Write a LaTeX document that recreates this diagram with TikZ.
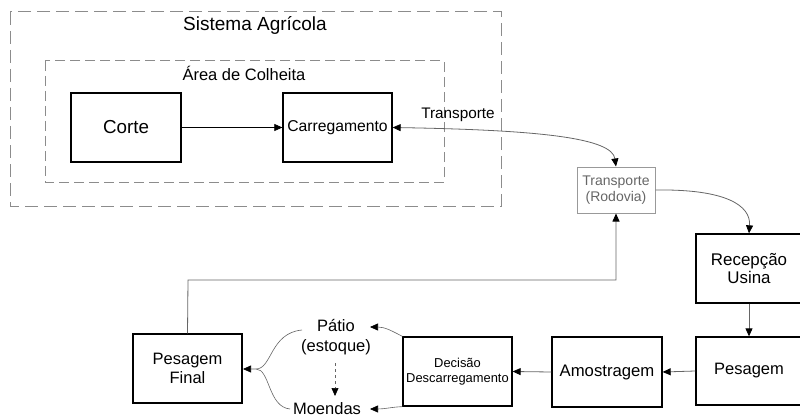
\documentclass[tikz,border=0pt]{standalone}
\usepackage{fontspec}
\setmainfont{Liberation Sans}
\usetikzlibrary{arrows.meta}
\begin{document}
\begin{tikzpicture}[x=1pt,y=-1pt,
  box/.style={draw=black,line width=1.3pt,align=center,inner sep=0pt},
  tip/.style={-{Triangle[length=8pt,width=7pt,color=black]}},
  conn/.style={draw=black!60,line width=0.8pt},
  outerdash/.style={draw=black!45,line width=1pt,dash pattern=on 13pt off 6pt},
  innerdash/.style={draw=black!45,line width=1pt,dash pattern=on 10pt off 5pt},
  lbl/.style={inner sep=0pt,align=center}]
\useasboundingbox (0,0) rectangle (800,417);
% dashed regions
\draw[outerdash] (10,12) rectangle (501,206);
\draw[innerdash] (45,61) rectangle (444,182);
\node[lbl,font=\fontsize{19}{21}\selectfont] (sa) at (255,25) {Sistema Agrícola};
\node[lbl,font=\fontsize{16.5}{19}\selectfont] (ac) at (244,73) {Área de Colheita};
% boxes
\node[box,minimum width=110pt,minimum height=69pt,font=\fontsize{18.8}{21}\selectfont] (corte) at (126,127.5) {Corte};
\node[box,minimum width=109pt,minimum height=69pt,font=\fontsize{15.7}{18}\selectfont] (carreg) at (337.5,127.5) {Carregamento};
\node[lbl,font=\fontsize{15.3}{18}\selectfont] (tlabel) at (458,115) {Transporte};
\node[draw=black!40,line width=1pt,align=center,inner sep=0pt,minimum width=78pt,minimum height=46pt,text=black!60,font=\fontsize{14}{16.5}\selectfont] (trans) at (616,190) {Transporte\\(Rodovia)};
\node[box,minimum width=106pt,minimum height=69pt,font=\fontsize{16.9}{18.5}\selectfont] (recep) at (749,268.5) {Recepção\\Usina};
\node[box,minimum width=106pt,minimum height=68pt,font=\fontsize{16.5}{19}\selectfont] (pesag) at (749,371) {Pesagem};
\node[box,minimum width=110pt,minimum height=70pt,font=\fontsize{16.7}{19}\selectfont] (amost) at (607,372) {Amostragem};
\node[box,minimum width=109pt,minimum height=69pt,font=\fontsize{12.9}{14.5}\selectfont] (decis) at (457.5,371.5) {Decisão\\Descarregamento};
\node[box,minimum width=109pt,minimum height=69pt,font=\fontsize{16.5}{19}\selectfont] (pfinal) at (187.5,368.5) {Pesagem\\Final};
\node[lbl,font=\fontsize{16.5}{20}\selectfont] (patio) at (336,337) {Pátio\\(estoque)};
\node[lbl,font=\fontsize{16.5}{20}\selectfont] (moend) at (327,408.5) {Moendas};
% connector points
\coordinate (patioin) at (370,327);
\coordinate (moendin) at (370,409);
\coordinate (patioout) at (302,330);
\coordinate (moendout) at (290,409);
\coordinate (pfin) at (243,369);
\coordinate (ret1) at (188,280);
\coordinate (ret2) at (616,280);
% connectors
\draw[tip,draw=black,line width=0.7pt] (corte.east) -- (carreg.west);
\draw[conn,{Triangle[length=8pt,width=7pt,color=black]}-{Triangle[length=8pt,width=7pt,color=black]}] (carreg.east) .. controls (540,130) and (612,138) .. (trans.north);
\draw[conn,tip] (trans.east) .. controls (725,189) and (751,205) .. (recep.north);
\draw[conn,tip] (recep.south) -- (pesag.north);
\draw[conn,tip] (pesag.west) -- (amost.east);
\draw[conn,tip] (amost.west) -- (decis.east);
\draw[conn,line width=0.6pt,tip] (decis.north west) .. controls (392,331) and (385,327) .. (patioin);
\draw[conn,line width=0.6pt,tip] (decis.south west) .. controls (392,407) and (385,409) .. (moendin);
\draw[conn,line width=0.6pt,dashed,tip] (335,363) -- (335,396);
\draw[conn,line width=0.6pt] (patioout) .. controls (270,333) and (272,369) .. (256,369);
\draw[conn,line width=0.6pt,tip] (moendout) .. controls (268,407) and (270,369) .. (256,369) -- (pfin);
\draw[conn,tip] (pfinal.north) -- (ret1) -- (ret2) -- (trans.south);
\end{tikzpicture}
\end{document}
